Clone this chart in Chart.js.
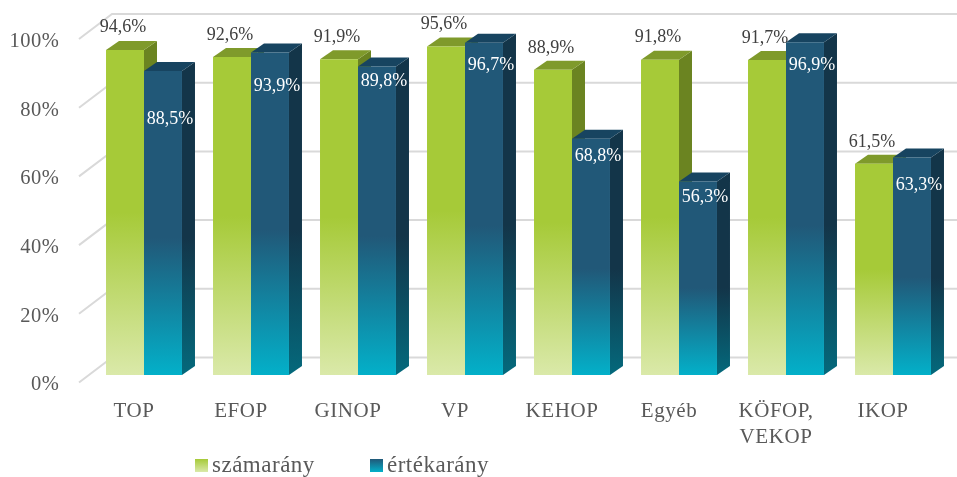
<!DOCTYPE html>
<html><head><meta charset="utf-8">
<style>html,body{margin:0;padding:0;background:#fff}#w{width:957px;height:477px}</style>
<script src="https://cdn.jsdelivr.net/npm/chart.js@4"></script>
</head><body><div id="w"><canvas id="c"></canvas></div>
<script>
const categories = ["TOP","EFOP","GINOP","VP","KEHOP","Egyéb",["KÖFOP,","VEKOP"],"IKOP"];
const szamarany = [94.6,92.6,91.9,95.6,88.9,91.8,91.7,61.5];
const ertekarany = [88.5,93.9,89.8,96.7,68.8,56.3,96.9,63.3];
const seriesNames = ["számarány","értékarány"];
const yTicks = [0,20,40,60,80,100];
// vertical label shifts relative to bar top (px)
const greenLabelShift = [-23,-22,-22,-22,-21,-22,-22,-21];
const blueLabelShift = [48,34,15,22,18,16,23,28];

const FONT = '"Liberation Serif", serif';
const SPACING = '0.55px';
const DX = 13, DY = 9;
const fmt = v => v.toFixed(1).replace('.',',') + '%';

function vGrad(ctx, top, bottom, stops){
  const g = ctx.createLinearGradient(0, top, 0, bottom);
  stops.forEach(s => g.addColorStop(s[0], s[1]));
  return g;
}
const frontStops = [
  [[0,'#A6CA38'],[0.5,'#A6CA38'],[1,'#DAE9A9']],
  [[0,'#215878'],[0.55,'#215878'],[1,'#03B0C9']]
];
const sideStops = [
  [[0,'#6B8421'],[1,'#6B8421']],
  [[0,'#133549'],[0.55,'#133549'],[1,'#04697C']]
];
const topColors = ['#7F9A2B','#174460'];

const depthPlugin = {
  id:'depth',
  beforeDraw(chart){ chart.ctx.letterSpacing = SPACING; },
  beforeDatasetsDraw(chart){
    const {ctx, scales:{y}} = chart;
    ctx.save();
    ctx.strokeStyle = '#D9D9D9'; ctx.lineWidth = 2;
    yTicks.forEach(v => {
      const p = y.getPixelForValue(v);
      ctx.beginPath();
      ctx.moveTo(79, p + 7.5);
      ctx.lineTo(112, p - 17.5);
      ctx.lineTo(957, p - 17.5);
      ctx.stroke();
    });
    chart.data.datasets.forEach((ds, di) => {
      chart.getDatasetMeta(di).data.forEach(b => {
        const l = b.x - b.width/2, r = b.x + b.width/2, t = b.y, base = b.base;
        ctx.fillStyle = vGrad(ctx, t, base, sideStops[di]);
        ctx.beginPath();
        ctx.moveTo(r, t); ctx.lineTo(r+DX, t-DY); ctx.lineTo(r+DX, base-DY); ctx.lineTo(r, base);
        ctx.closePath(); ctx.fill();
        ctx.fillStyle = topColors[di];
        ctx.beginPath();
        ctx.moveTo(l, t); ctx.lineTo(l+DX, t-DY); ctx.lineTo(r+DX, t-DY); ctx.lineTo(r, t);
        ctx.closePath(); ctx.fill();
      });
    });
    ctx.restore();
  },
  afterDatasetsDraw(chart){
    const {ctx} = chart;
    ctx.save();
    ctx.font = '18px ' + FONT;
    ctx.letterSpacing = '0px';
    ctx.textAlign = 'center'; ctx.textBaseline = 'middle';
    chart.getDatasetMeta(0).data.forEach((b,i) => {
      ctx.fillStyle = '#404040';
      ctx.fillText(fmt(szamarany[i]), b.x - 2, b.y + greenLabelShift[i]);
    });
    chart.getDatasetMeta(1).data.forEach((b,i) => {
      ctx.fillStyle = '#FFFFFF';
      ctx.fillText(fmt(ertekarany[i]), b.x + 7, b.y + blueLabelShift[i]);
    });
    ctx.font = '23px ' + FONT;
    ctx.letterSpacing = '0.5px';
    ctx.textAlign = 'left';
    [195, 370].forEach((x, i) => {
      ctx.fillStyle = vGrad(ctx, 459, 472, [[0,frontStops[i][0][1]],[1,frontStops[i][2][1]]]);
      ctx.fillRect(x, 459, 13, 13);
      ctx.fillStyle = '#595959';
      ctx.fillText(seriesNames[i], x + 17, 466);
    });
    ctx.restore();
  }
};

const frontFill = i => c => {
  const y = c.chart.scales.y;
  const top = y ? y.getPixelForValue(c.raw) : NaN;
  const bottom = y ? y.getPixelForValue(0) : NaN;
  if (!isFinite(top) || !isFinite(bottom)) return frontStops[i][0][1];
  return vGrad(c.chart.ctx, top, bottom, frontStops[i]);
};

new Chart(document.getElementById('c'), {
  type:'bar',
  data:{ labels:categories, datasets:[
    {label:seriesNames[0], data:szamarany, backgroundColor:frontFill(0), borderWidth:0},
    {label:seriesNames[1], data:ertekarany, backgroundColor:frontFill(1), borderWidth:0}
  ]},
  options:{
    responsive:true, maintainAspectRatio:false, animation:false,
    layout:{padding:{top:31.5, right:10.5, bottom:0, left:0}},
    categoryPercentage:0.71, barPercentage:1,
    plugins:{legend:{display:false}, tooltip:{enabled:false}, title:{display:false}},
    scales:{
      x:{
        grid:{display:false, drawTicks:false}, border:{display:false},
        ticks:{padding:23, labelOffset:-10, color:'#595959', maxRotation:0, autoSkip:false,
               font:{family:FONT, size:21, lineHeight:1.24}},
        afterFit(s){ s.height = 102; s.paddingLeft = 0; s.paddingRight = 0; }
      },
      y:{
        min:0, max:100,
        grid:{display:false, drawTicks:false}, border:{display:false},
        afterBuildTicks(s){ s.ticks = yTicks.map(v => ({value:v})); },
        ticks:{padding:31, labelOffset:10, color:'#595959', callback:v => v + '%',
               font:{family:FONT, size:20.5}},
        afterFit(s){ s.width = 90.5; s.paddingTop = 0; s.paddingBottom = 0; }
      }
    }
  },
  plugins:[depthPlugin]
});
</script></body></html>
